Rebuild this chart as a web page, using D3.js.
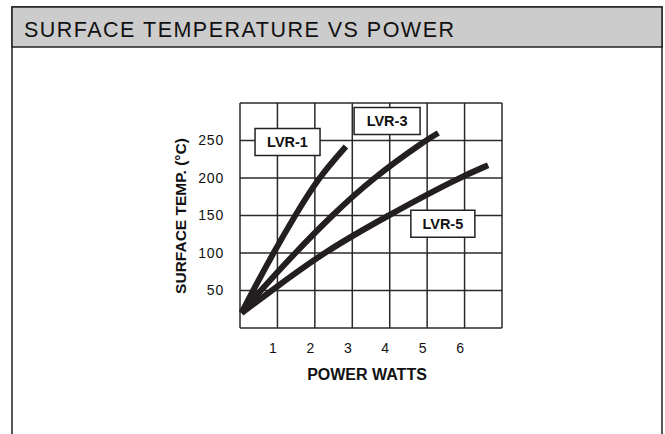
<!DOCTYPE html>
<html>
<head>
<meta charset="utf-8">
<script src="https://cdn.jsdelivr.net/npm/d3@7"></script>
<style>
  body { margin: 0; background: #fff; }
  text { font-family: "Liberation Sans", Arial, sans-serif; }
</style>
</head>
<body>
<svg id="chart" width="665" height="434"></svg>
<script>
// chart data
var title = "SURFACE TEMPERATURE VS POWER";
var xTicks = [1, 2, 3, 4, 5, 6];
var yTicks = [50, 100, 150, 200, 250];
var seriesNames = ["LVR-1", "LVR-3", "LVR-5"];
var lvr1Power = [0.04, 0.35, 0.89, 1.47, 2.09, 2.83];
var lvr1Temp  = [20, 50, 100, 150, 200, 242];
var lvr3Power = [0.04, 0.55, 1.47, 2.45, 3.55, 4.95, 5.30];
var lvr3Temp  = [20, 50, 100, 150, 200, 250, 260];
var lvr5Power = [0.04, 0.85, 2.2, 3.95, 5.83, 6.63];
var lvr5Temp  = [20, 50, 100, 150, 200, 217];

var svg = d3.select("#chart");

// panel frame with grey title bar
svg.append("rect")
  .attr("x", 12).attr("y", 7).attr("width", 650).attr("height", 440)
  .attr("fill", "#fff").attr("stroke", "#222").attr("stroke-width", 1.5);
svg.append("rect")
  .attr("x", 12).attr("y", 7).attr("width", 650).attr("height", 40)
  .attr("fill", "#cccccc").attr("stroke", "#222").attr("stroke-width", 1.5);
svg.append("text")
  .attr("x", 24).attr("y", 36.5)
  .attr("font-size", 21.5).attr("fill", "#111")
  .attr("textLength", 430).attr("lengthAdjust", "spacing")
  .text(title);

// scales
var x = d3.scaleLinear().domain([0, 7]).range([240, 502]);
var y = d3.scaleLinear().domain([0, 300]).range([328, 103]);

// grid
var grid = svg.append("g").attr("stroke", "#2a2a2a").attr("stroke-width", 1.5);
grid.selectAll(".vx").data(d3.range(0, 8)).enter().append("line")
  .attr("x1", function(d) { return x(d); }).attr("x2", function(d) { return x(d); })
  .attr("y1", y(0)).attr("y2", y(300));
grid.selectAll(".hy").data(d3.range(0, 301, 50)).enter().append("line")
  .attr("y1", function(d) { return y(d); }).attr("y2", function(d) { return y(d); })
  .attr("x1", x(0)).attr("x2", x(7));

// x axis
var xAxis = svg.append("g")
  .attr("transform", "translate(0," + y(0) + ")")
  .call(d3.axisBottom(x).tickValues(xTicks).tickFormat(d3.format("d")).tickSize(0).tickPadding(15));
xAxis.select(".domain").remove();
xAxis.selectAll("text")
  .attr("font-size", 14).attr("fill", "#111").attr("dx", -5)
  .style("font-family", "Liberation Sans, Arial, sans-serif");

// y axis
var yAxis = svg.append("g")
  .attr("transform", "translate(" + x(0) + ",0)")
  .call(d3.axisLeft(y).tickValues(yTicks).tickSize(0).tickPadding(16));
yAxis.select(".domain").remove();
yAxis.selectAll("text")
  .attr("font-size", 14).attr("fill", "#111").attr("letter-spacing", 0.8)
  .style("font-family", "Liberation Sans, Arial, sans-serif");

// axis titles
svg.append("text")
  .attr("x", 367).attr("y", 380)
  .attr("text-anchor", "middle").attr("font-size", 16).attr("font-weight", "bold")
  .attr("fill", "#111")
  .text("POWER WATTS");
svg.append("text")
  .attr("transform", "translate(186,216) rotate(-90)")
  .attr("text-anchor", "middle").attr("font-size", 15.5).attr("font-weight", "bold")
  .attr("fill", "#111")
  .text("SURFACE TEMP. (°C)");

// curves
var series = [
  { name: seriesNames[0], px: lvr1Power, t: lvr1Temp },
  { name: seriesNames[1], px: lvr3Power, t: lvr3Temp },
  { name: seriesNames[2], px: lvr5Power, t: lvr5Temp }
];
var line = d3.line()
  .x(function(d) { return x(d[0]); })
  .y(function(d) { return y(d[1]); })
  .curve(d3.curveBasis);

svg.selectAll(".curve").data(series).enter().append("path")
  .attr("class", "curve")
  .attr("d", function(s) { return line(d3.zip(s.px, s.t)); })
  .attr("fill", "none").attr("stroke", "#231f20").attr("stroke-width", 6)
  .attr("stroke-linecap", "butt").attr("stroke-linejoin", "round");

// series labels in boxes
var labelAt = [[1.27, 248, 65], [3.93, 276, 66], [5.42, 139, 64]];
series.forEach(function(s, i) {
  var cx = x(labelAt[i][0]), cy = y(labelAt[i][1]), w = labelAt[i][2], h = 27;
  svg.append("rect")
    .attr("x", cx - w / 2).attr("y", cy - h / 2).attr("width", w).attr("height", h)
    .attr("fill", "#fff").attr("stroke", "#222").attr("stroke-width", 1.5);
  svg.append("text")
    .attr("x", cx).attr("y", cy + 5)
    .attr("text-anchor", "middle").attr("font-size", 14.5).attr("font-weight", "bold")
    .attr("fill", "#111")
    .text(s.name);
});
</script>
</body>
</html>
